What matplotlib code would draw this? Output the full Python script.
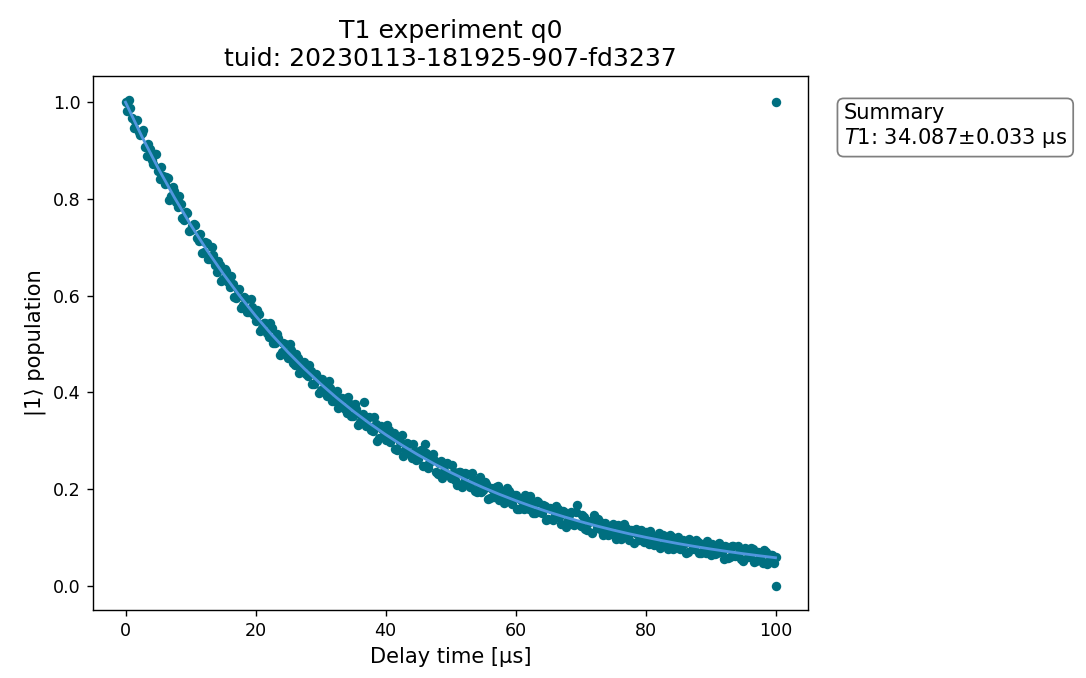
import numpy as np
import matplotlib
matplotlib.use("Agg")
import matplotlib.pyplot as plt

# ---- data ----
# measured points, set A: delays 0, 0.5, ..., 100 µs
delay_a_us = [i * 0.5 for i in range(201)]
population_a = [
    1.001, 1.004, 0.968, 0.961, 0.939,
    0.937, 0.908, 0.914, 0.881, 0.893,
    0.858, 0.867, 0.831, 0.844, 0.805,
    0.817, 0.784, 0.789, 0.757, 0.771,
    0.735, 0.748, 0.719, 0.727, 0.691,
    0.708, 0.676, 0.683, 0.648, 0.664,
    0.634, 0.651, 0.617, 0.625, 0.596,
    0.613, 0.580, 0.594, 0.566, 0.577,
    0.547, 0.562, 0.532, 0.544, 0.515,
    0.534, 0.502, 0.513, 0.483, 0.499,
    0.472, 0.488, 0.457, 0.471, 0.445,
    0.462, 0.433, 0.445, 0.417, 0.432,
    0.405, 0.422, 0.393, 0.409, 0.383,
    0.403, 0.372, 0.386, 0.358, 0.376,
    0.350, 0.366, 0.339, 0.355, 0.330,
    0.348, 0.320, 0.334, 0.306, 0.325,
    0.301, 0.323, 0.306, 0.282, 0.304,
    0.311, 0.281, 0.294, 0.265, 0.278,
    0.262, 0.280, 0.293, 0.243, 0.262,
    0.260, 0.231, 0.257, 0.237, 0.254,
    0.222, 0.235, 0.208, 0.236, 0.214,
    0.232, 0.205, 0.218, 0.194, 0.225,
    0.198, 0.210, 0.182, 0.198, 0.205,
    0.177, 0.195, 0.181, 0.196, 0.169,
    0.187, 0.159, 0.176, 0.187, 0.158,
    0.168, 0.151, 0.173, 0.151, 0.164,
    0.139, 0.158, 0.147, 0.159, 0.128,
    0.152, 0.135, 0.153, 0.125, 0.167,
    0.124, 0.143, 0.116, 0.133, 0.146,
    0.120, 0.131, 0.104, 0.122, 0.107,
    0.127, 0.096, 0.118, 0.104, 0.119,
    0.095, 0.111, 0.118, 0.094, 0.105,
    0.111, 0.086, 0.102, 0.091, 0.109,
    0.084, 0.099, 0.076, 0.100, 0.084,
    0.100, 0.078, 0.088, 0.070, 0.092,
    0.075, 0.091, 0.067, 0.083, 0.092,
    0.063, 0.079, 0.067, 0.085, 0.056,
    0.080, 0.060, 0.083, 0.064, 0.073,
    0.051, 0.073, 0.062, 0.076, 0.052,
    0.068, 0.048, 0.070, 0.051, 0.063,
    0.060,
]
# measured points, set B: delays 0.25, 0.75, ..., 99.75 µs
delay_b_us = [0.25 + i * 0.5 for i in range(200)]
population_b = [
    0.981, 0.987, 0.946, 0.964, 0.932,
    0.942, 0.889, 0.903, 0.872, 0.893,
    0.841, 0.848, 0.846, 0.797, 0.824,
    0.794, 0.806, 0.761, 0.773, 0.734,
    0.745, 0.747, 0.712, 0.688, 0.711,
    0.676, 0.701, 0.663, 0.672, 0.631,
    0.656, 0.628, 0.641, 0.598, 0.611,
    0.575, 0.598, 0.567, 0.594, 0.560,
    0.571, 0.527, 0.544, 0.522, 0.543,
    0.501, 0.520, 0.478, 0.501, 0.480,
    0.500, 0.461, 0.480, 0.439, 0.455,
    0.438, 0.457, 0.417, 0.438, 0.399,
    0.428, 0.406, 0.423, 0.383, 0.398,
    0.368, 0.389, 0.365, 0.391, 0.351,
    0.375, 0.333, 0.353, 0.380, 0.331,
    0.322, 0.348, 0.300, 0.330, 0.312,
    0.333, 0.297, 0.315, 0.280, 0.298,
    0.269, 0.296, 0.275, 0.294, 0.259,
    0.277, 0.247, 0.275, 0.254, 0.273,
    0.235, 0.253, 0.222, 0.252, 0.228,
    0.250, 0.218, 0.235, 0.204, 0.234,
    0.211, 0.234, 0.195, 0.212, 0.194,
    0.215, 0.179, 0.203, 0.184, 0.207,
    0.190, 0.171, 0.202, 0.174, 0.188,
    0.158, 0.180, 0.159, 0.171, 0.186,
    0.150, 0.176, 0.153, 0.167, 0.136,
    0.161, 0.135, 0.165, 0.142, 0.155,
    0.122, 0.146, 0.127, 0.152, 0.127,
    0.146, 0.118, 0.131, 0.109, 0.132,
    0.139, 0.114, 0.129, 0.105, 0.121,
    0.104, 0.126, 0.096, 0.128, 0.104,
    0.116, 0.089, 0.108, 0.116, 0.090,
    0.093, 0.114, 0.085, 0.103, 0.079,
    0.105, 0.088, 0.105, 0.076, 0.094,
    0.076, 0.095, 0.068, 0.096, 0.077,
    0.095, 0.067, 0.086, 0.068, 0.080,
    0.086, 0.066, 0.089, 0.069, 0.083,
    0.057, 0.082, 0.061, 0.083, 0.055,
    0.077, 0.059, 0.078, 0.049, 0.070,
    0.054, 0.074, 0.045, 0.064, 0.048,
]
# calibration points
cal_delay_us = [100.0, 100.0]
cal_population = [1.0, 0.0]

# fitted curve, read at 2.5 µs steps
fit_delay_us = [i * 2.5 for i in range(41)]
fit_population = [
    1.0000, 0.9296, 0.8642, 0.8035, 0.7470, 0.6945, 0.6458, 0.6005,
    0.5584, 0.5192, 0.4829, 0.4491, 0.4177, 0.3885, 0.3614, 0.3362,
    0.3128, 0.2910, 0.2708, 0.2520, 0.2345, 0.2183, 0.2032, 0.1892,
    0.1762, 0.1641, 0.1528, 0.1424, 0.1327, 0.1236, 0.1152, 0.1074,
    0.1002, 0.0935, 0.0872, 0.0814, 0.0760, 0.0710, 0.0663, 0.0620,
    0.0579,
]

title_text = "T1 experiment q0\ntuid: 20230113-181925-907-fd3237"
summary_text = "Summary\n$T1$: 34.087±0.033 µs"

# ---- figure ----
DPI = 126
fig = plt.figure(figsize=(1086 / DPI, 678 / DPI), dpi=DPI)
ax = fig.add_axes([93 / 1086, 68 / 678, 715 / 1086, 534 / 678])

dot_color = "#006F80"
line_color = "#5096DE"
ms = 5.4

ax.plot(delay_a_us, population_a, "o", color=dot_color, ms=ms, mew=0, zorder=2)
ax.plot(delay_b_us, population_b, "o", color=dot_color, ms=ms, mew=0, zorder=2)
ax.plot(cal_delay_us, cal_population, "o", color=dot_color, ms=ms, mew=0, zorder=2)
ax.plot(fit_delay_us, fit_population, "-", color=line_color, lw=1.6, zorder=3)

ax.set_xlabel("Delay time [µs]", fontsize=12)
ax.set_ylabel("|1⟩ population", fontsize=12, family=["DejaVu Sans", "Noto Sans"])
ax.set_title(title_text, fontsize=14.4)

ax.set_xticks([0, 20, 40, 60, 80, 100])
ax.set_yticks([0.0, 0.2, 0.4, 0.6, 0.8, 1.0])

ax.text(1.05, 0.95, summary_text, transform=ax.transAxes, fontsize=12,
        ha="left", va="top",
        bbox=dict(boxstyle="round", facecolor="white", edgecolor="black", alpha=0.5))

fig.savefig("out.png", dpi=DPI)
